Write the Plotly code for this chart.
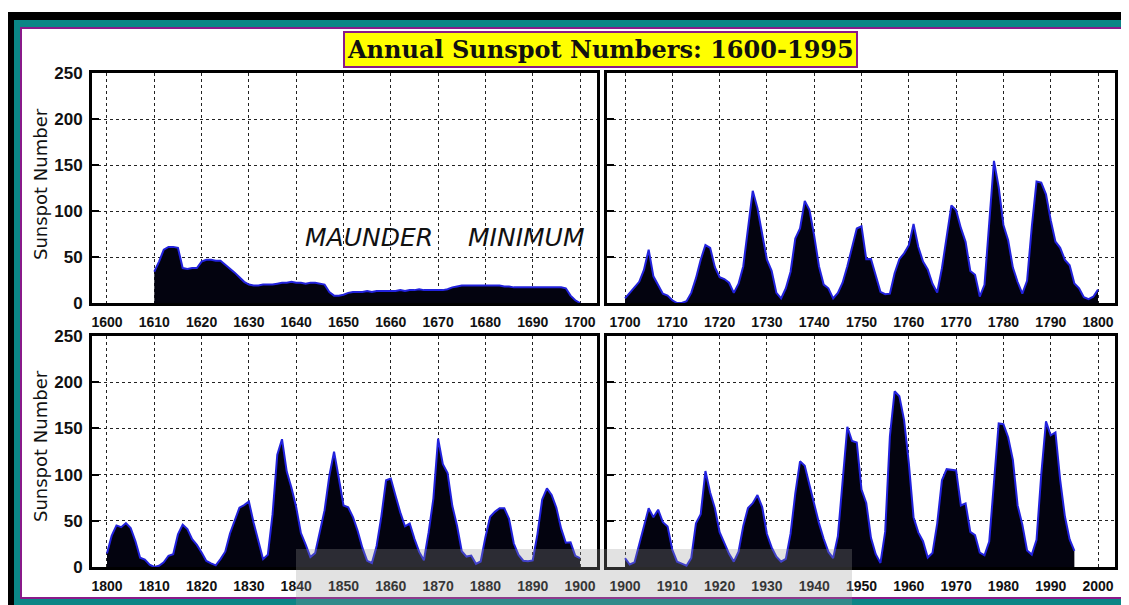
import plotly.graph_objects as go

# page body has an 8px margin, so the figure is drawn 8px in from the window's corner
OFF = 8
W, H = 1129 - OFF, 605 - OFF

# ---------------- data ----------------
years_1610_1700 = list(range(1610, 1701))
ssn_1610_1700 = [34, 45, 58, 61, 61, 60, 38, 37, 38, 38,
                 45, 47, 47, 46, 46, 42, 38, 33, 28, 23,
                 20, 19, 19, 20, 20, 20, 21, 22, 22, 23,
                 22, 22, 21, 22, 22, 21, 20, 12, 8, 8,
                 9, 11, 12, 12, 12, 13, 12, 13, 13, 13,
                 13, 13, 14, 13, 14, 14, 15, 14, 14, 14,
                 14, 14, 15, 17, 18, 19, 19, 19, 19, 19,
                 19, 19, 19, 19, 18, 18, 17, 17, 17, 17,
                 17, 17, 17, 17, 17, 17, 17, 16, 8, 3,
                 0]

years_1700_1800 = list(range(1700, 1801))
ssn_1700_1800 = [5, 11, 16, 23, 36, 58, 29, 20, 10, 8,
                 3, 0, 0, 2, 11, 27, 47, 63, 60, 39,
                 28, 26, 22, 11, 21, 40, 78, 122, 103, 73,
                 47, 35, 11, 5, 16, 34, 70, 81, 111, 101,
                 73, 40, 20, 16, 5, 11, 22, 40, 60, 80.9,
                 83.4, 47.7, 47.8, 30.7, 12.2, 9.6, 10.2, 32.4, 47.6, 54.0,
                 62.9, 85.9, 61.2, 45.1, 36.4, 20.9, 11.4, 37.8, 69.8, 106.1,
                 100.8, 81.6, 66.5, 34.8, 30.6, 7.0, 19.8, 92.5, 154.4, 125.9,
                 84.8, 68.1, 38.5, 22.8, 10.2, 24.1, 82.9, 132.0, 130.9, 118.1,
                 89.9, 66.6, 60.0, 46.9, 41.0, 21.3, 16.0, 6.4, 4.1, 6.8,
                 14.5]

years_1800_1900 = list(range(1800, 1901))
ssn_1800_1900 = [14.5, 34.0, 45.0, 43.1, 47.5, 42.2, 28.1, 10.1, 8.1, 2.5,
                 0.0, 1.4, 5.0, 12.2, 13.9, 35.4, 45.8, 41.1, 30.1, 23.9,
                 15.6, 6.6, 4.0, 1.8, 8.5, 16.6, 36.3, 49.6, 64.2, 67.0,
                 70.9, 47.8, 27.5, 8.5, 13.2, 56.9, 121.5, 138.3, 103.2, 85.7,
                 64.6, 36.7, 24.2, 10.7, 15.0, 40.1, 61.5, 98.5, 124.7, 96.3,
                 66.6, 64.5, 54.1, 39.0, 20.6, 6.7, 4.3, 22.7, 54.8, 93.8,
                 95.8, 77.2, 59.1, 44.0, 47.0, 30.5, 16.3, 7.3, 37.6, 74.0,
                 139.0, 111.2, 101.6, 66.2, 44.7, 17.0, 11.3, 12.4, 3.4, 6.0,
                 32.3, 54.3, 59.7, 63.7, 63.5, 52.2, 25.4, 13.1, 6.8, 6.3,
                 7.1, 35.6, 73.0, 85.1, 78.0, 64.0, 41.8, 26.2, 26.7, 12.1,
                 9.5]

years_1900_1995 = list(range(1900, 1996))
ssn_1900_1995 = [9.5, 2.7, 5.0, 24.4, 42.0, 63.5, 53.8, 62.0, 48.5, 43.9,
                 18.6, 5.7, 3.6, 1.4, 9.6, 47.4, 57.1, 103.9, 80.6, 63.6,
                 37.6, 26.1, 14.2, 5.8, 16.7, 44.3, 63.9, 69.0, 77.8, 64.9,
                 35.7, 21.2, 11.1, 5.7, 8.7, 36.1, 79.7, 114.4, 109.6, 88.8,
                 67.8, 47.5, 30.6, 16.3, 9.6, 33.2, 92.6, 151.6, 136.3, 134.7,
                 83.9, 69.4, 31.5, 13.9, 4.4, 38.0, 141.7, 190.2, 184.8, 159.0,
                 112.3, 53.9, 37.5, 27.9, 10.2, 15.1, 47.0, 93.8, 105.9, 105.5,
                 104.5, 66.6, 68.9, 38.0, 34.5, 15.5, 12.6, 27.5, 92.5, 155.4,
                 154.6, 140.4, 115.9, 66.6, 45.9, 17.9, 13.4, 29.4, 100.2, 157.6,
                 142.6, 145.7, 94.3, 54.6, 29.9, 17.5]

ticks_p1 = [1600, 1610, 1620, 1630, 1640, 1650, 1660, 1670, 1680, 1690, 1700]
ticks_p2 = [1700, 1710, 1720, 1730, 1740, 1750, 1760, 1770, 1780, 1790, 1800]
ticks_p3 = [1800, 1810, 1820, 1830, 1840, 1850, 1860, 1870, 1880, 1890, 1900]
ticks_p4 = [1900, 1910, 1920, 1930, 1940, 1950, 1960, 1970, 1980, 1990, 2000]
y_ticks = [0, 50, 100, 150, 200, 250]

title_text = "Annual Sunspot Numbers: 1600-1995"
ytitle_text = "Sunspot Number"

# ---------------- layout helpers (window pixels -> paper) ----------------
def px_x(p):
    return (p - OFF) / W

def px_y(p):
    return 1 - (p - OFF) / H

FILL = "#03030f"
LINE = "#2222dd"

panels = [
    (years_1610_1700, ssn_1610_1700, ticks_p1, [1596.83, 1703.59], (92, 597), (73, 303), True),
    (years_1700_1800, ssn_1700_1800, ticks_p2, [1696.19, 1803.59], (607, 1115), (73, 303), False),
    (years_1800_1900, ssn_1800_1900, ticks_p3, [1796.83, 1903.59], (92, 597), (336, 567), True),
    (years_1900_1995, ssn_1900_1995, ticks_p4, [1896.19, 2003.59], (607, 1115), (336, 567), False),
]

fig = go.Figure()
layout = {}
for i, (xs, ys, tks, xr, (x0, x1), (y0, y1), left) in enumerate(panels, start=1):
    sfx = "" if i == 1 else str(i)
    fig.add_trace(go.Scatter(
        x=xs, y=ys, mode="lines", fill="tozeroy",
        fillcolor=FILL, line=dict(color=LINE, width=2),
        xaxis="x" + sfx, yaxis="y" + sfx, showlegend=False, hoverinfo="skip"))
    layout["xaxis" + sfx] = dict(
        domain=[px_x(x0), px_x(x1)], range=xr, anchor="y" + sfx,
        tickvals=tks, ticktext=[str(t) for t in tks],
        showgrid=True, gridcolor="#222222", griddash="dot", gridwidth=1,
        showline=True, mirror=True, linecolor="black", linewidth=3,
        ticks="", ticklabelstandoff=4, automargin=False,
        tickfont=dict(family="Liberation Sans", size=14, color="#111111", weight="bold"),
        zeroline=False, fixedrange=True)
    layout["yaxis" + sfx] = dict(
        domain=[px_y(y1), px_y(y0)], range=[0, 250], anchor="x" + sfx,
        tickvals=y_ticks, showticklabels=left,
        showgrid=True, gridcolor="#222222", griddash="dot", gridwidth=1,
        showline=True, mirror=True, linecolor="black", linewidth=3,
        ticks="inside", ticklen=7, tickwidth=1.5, tickcolor="black",
        ticklabelstandoff=3, automargin=False,
        tickfont=dict(family="Liberation Sans", size=17, color="#111111", weight="bold"),
        zeroline=False, fixedrange=True)

shapes = [
    dict(type="rect", xref="paper", yref="paper", x0=0, x1=1, y0=0, y1=px_y(12),
         fillcolor="black", line=dict(width=0), layer="below"),
    dict(type="rect", xref="paper", yref="paper", x0=px_x(14), x1=1, y0=0, y1=px_y(20),
         fillcolor="#0b8686", line=dict(width=0), layer="below"),
    dict(type="rect", xref="paper", yref="paper", x0=px_x(21), x1=px_x(1122), y0=px_y(598), y1=px_y(28),
         fillcolor="white", line=dict(color="#8a1a8a", width=2), layer="below"),
    dict(type="rect", xref="paper", yref="paper", x0=px_x(296), x1=px_x(852), y0=0, y1=px_y(549),
         fillcolor="rgba(150,150,150,0.28)", line=dict(width=0), layer="above"),
]

annotations = [
    dict(text="<b>" + title_text + "</b>", xref="paper", yref="paper",
         x=px_x(600), y=px_y(50), xanchor="center", yanchor="middle", showarrow=False,
         font=dict(family="DejaVu Serif", size=24, color="#111111"),
         bgcolor="#ffff00", bordercolor="#8a1a8a", borderwidth=2, borderpad=2),
    dict(text="MAUNDER", xref="paper", yref="paper", x=px_x(369), y=px_y(238),
         xanchor="center", yanchor="middle", showarrow=False,
         font=dict(family="DejaVu Sans", size=25, color="#111111", style="italic")),
    dict(text="MINIMUM", xref="paper", yref="paper", x=px_x(526), y=px_y(238),
         xanchor="center", yanchor="middle", showarrow=False,
         font=dict(family="DejaVu Sans", size=25, color="#111111", style="italic")),
    dict(text=ytitle_text, xref="paper", yref="paper", x=px_x(40), y=px_y(184),
         xanchor="center", yanchor="middle", textangle=-90, showarrow=False,
         font=dict(family="DejaVu Sans", size=18, color="#111111")),
    dict(text=ytitle_text, xref="paper", yref="paper", x=px_x(40), y=px_y(446),
         xanchor="center", yanchor="middle", textangle=-90, showarrow=False,
         font=dict(family="DejaVu Sans", size=18, color="#111111")),
]

fig.update_layout(
    width=W, height=H, margin=dict(l=0, r=0, t=0, b=0, pad=0, autoexpand=False),
    paper_bgcolor="white", plot_bgcolor="white",
    shapes=shapes, annotations=annotations, **layout)

fig.write_html("out.html", config={"displayModeBar": False})
